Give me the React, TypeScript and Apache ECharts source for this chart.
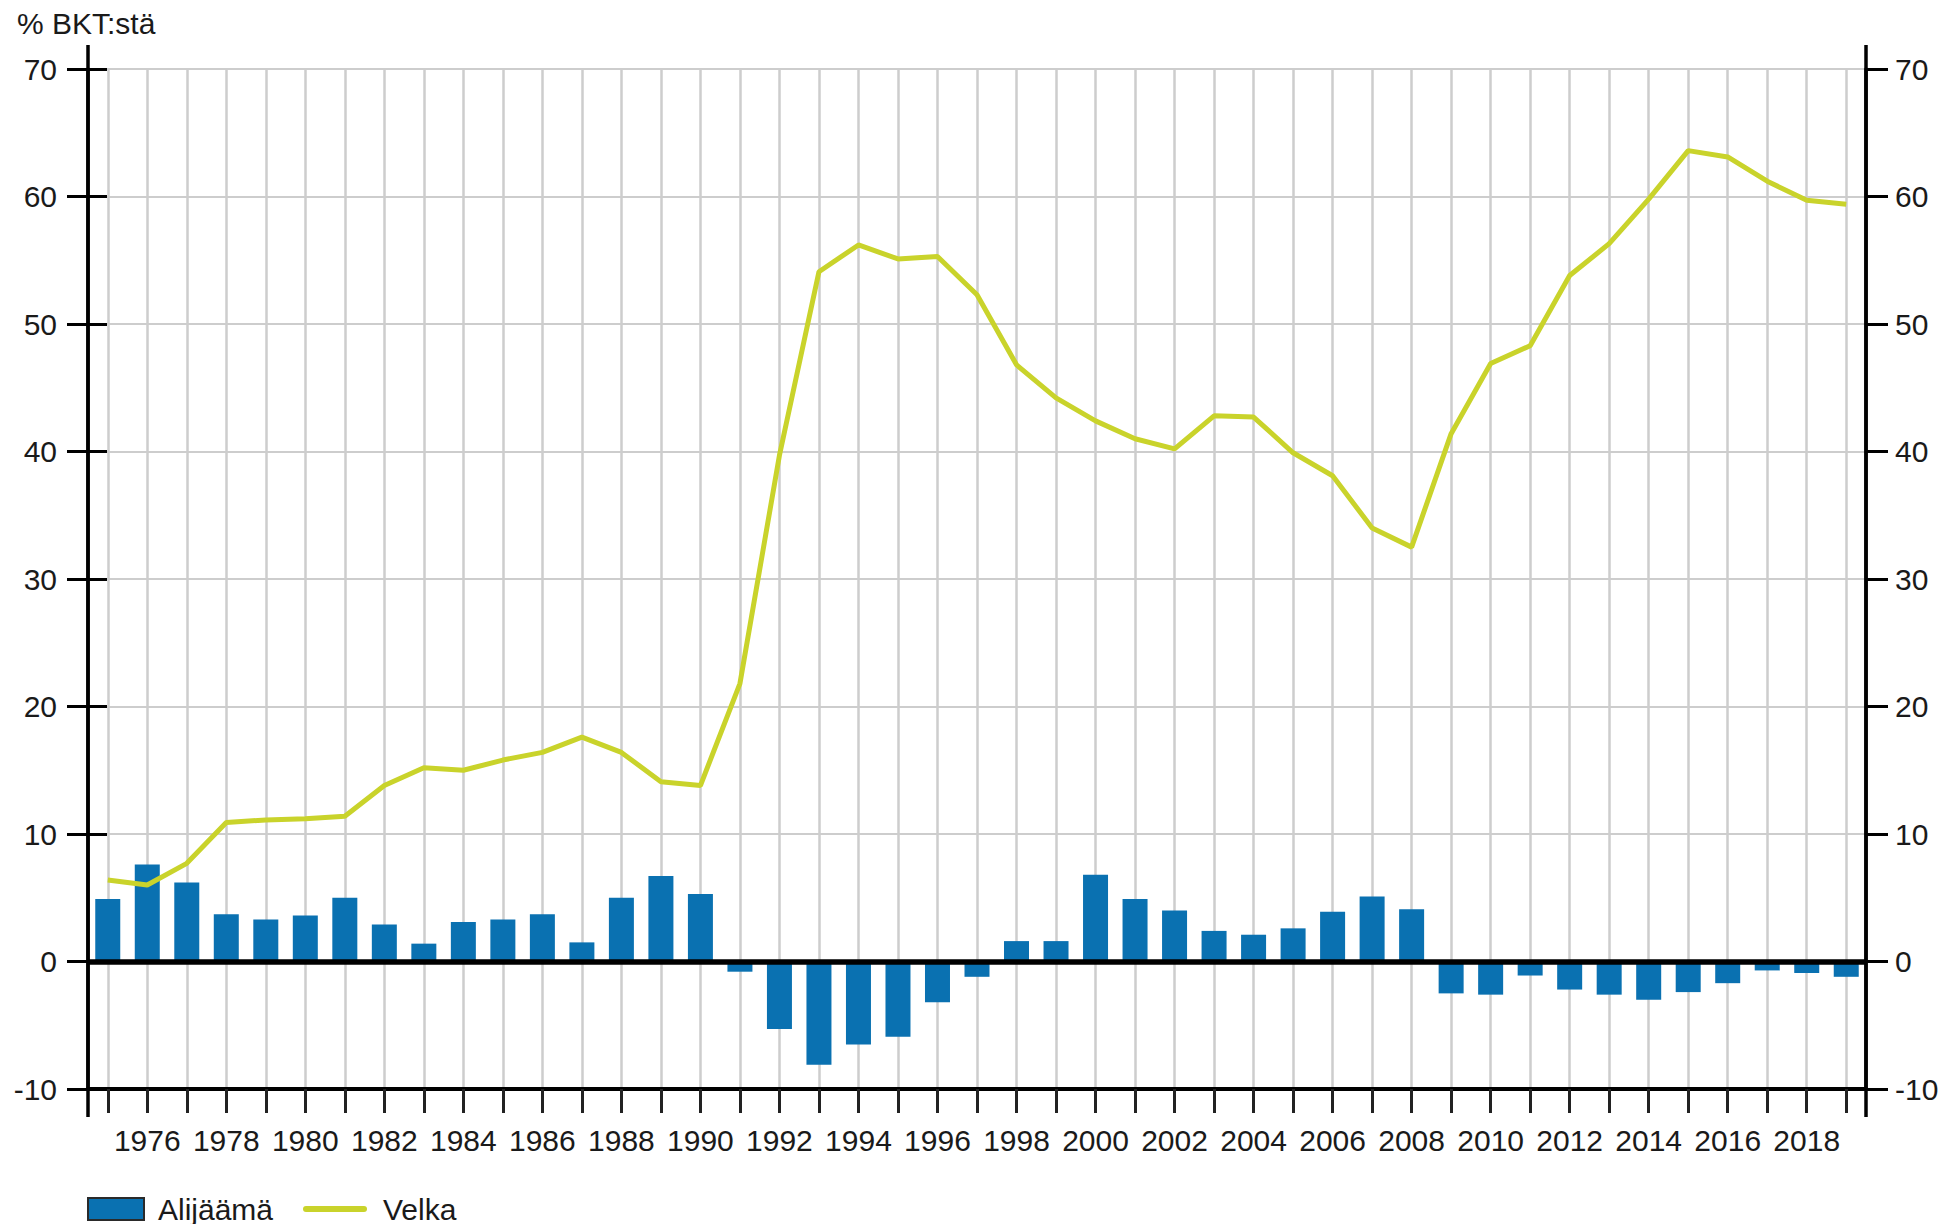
import React, { useEffect, useRef } from "react";
import * as echarts from "echarts";

const years = [
  "1975", "1976", "1977", "1978", "1979", "1980", "1981", "1982", "1983", "1984",
  "1985", "1986", "1987", "1988", "1989", "1990", "1991", "1992", "1993", "1994",
  "1995", "1996", "1997", "1998", "1999", "2000", "2001", "2002", "2003", "2004",
  "2005", "2006", "2007", "2008", "2009", "2010", "2011", "2012", "2013", "2014",
  "2015", "2016", "2017", "2018", "2019",
];

// Alijäämä (balance, % of GDP)
const deficit = [
  4.9, 7.6, 6.2, 3.7, 3.3, 3.6, 5.0, 2.9, 1.4, 3.1,
  3.3, 3.7, 1.5, 5.0, 6.7, 5.3, -0.8, -5.3, -8.1, -6.5,
  -5.9, -3.2, -1.2, 1.6, 1.6, 6.8, 4.9, 4.0, 2.4, 2.1,
  2.6, 3.9, 5.1, 4.1, -2.5, -2.6, -1.1, -2.2, -2.6, -3.0,
  -2.4, -1.7, -0.7, -0.9, -1.2,
];

// Velka (debt, % of GDP)
const debt = [
  6.4, 6.0, 7.7, 10.9, 11.1, 11.2, 11.4, 13.8, 15.2, 15.0,
  15.8, 16.4, 17.6, 16.4, 14.1, 13.8, 21.8, 39.7, 54.1, 56.2,
  55.1, 55.3, 52.3, 46.8, 44.2, 42.4, 41.0, 40.2, 42.8, 42.7,
  39.9, 38.1, 34.0, 32.5, 41.4, 46.9, 48.3, 53.8, 56.3, 59.8,
  63.6, 63.1, 61.2, 59.7, 59.4,
];

const yMin = -10;
const yMax = 70;
const yStep = 10;

const W = 1949;
const H = 1224;
const G_LEFT = 88;
const G_RIGHT = 83;
const G_TOP = 69;
const G_BOTTOM = 135;

const FONT = "'Liberation Sans', Arial, sans-serif";
const TXT = "#1a1a1a";
const BAR = "#0a71b1";
const LINE = "#c9d32b";
const GRID = "#cdcdcd";

export default function App() {
  const ref = useRef<HTMLDivElement>(null);

  useEffect(() => {
    if (!ref.current) return;
    const chart = echarts.init(ref.current, undefined, { renderer: "svg" });

    const axisX1 = G_LEFT;
    const axisX2 = W - G_RIGHT;
    const extTop = G_TOP - 24;
    const extBottom = H - G_BOTTOM + 28;

    const baseY = {
      type: "value",
      min: yMin,
      max: yMax,
      interval: yStep,
    };

    const legendText = { fontFamily: FONT, fontSize: 30, lineHeight: 30, color: TXT };

    chart.setOption({
      animation: false,
      backgroundColor: "#ffffff",
      textStyle: { fontFamily: FONT },
      grid: { left: G_LEFT, right: G_RIGHT, top: G_TOP, bottom: G_BOTTOM, containLabel: false },
      legend: [
        {
          left: 87,
          top: 1194,
          padding: 0,
          itemWidth: 56,
          itemHeight: 22,
          selectedMode: false,
          textStyle: { ...legendText, padding: [0, 0, 0, 9] },
          data: [
            { name: "Alijäämä", icon: "rect", itemStyle: { borderColor: "#2a2a2a", borderWidth: 2 } },
          ],
        },
        {
          left: 303,
          top: 1194,
          padding: 0,
          itemWidth: 64,
          itemHeight: 22,
          selectedMode: false,
          textStyle: { ...legendText, padding: [0, 0, 0, 11] },
          data: [
            {
              name: "Velka",
              icon: "path://M3,0 L61,0 A3,3 0 0 1 61,6 L3,6 A3,3 0 0 1 3,0 Z",
              itemStyle: { color: LINE, borderWidth: 0 },
            },
          ],
        },
      ],
      xAxis: {
        type: "category",
        data: years,
        boundaryGap: true,
        axisLine: { show: true, onZero: false, lineStyle: { color: "#000", width: 4 } },
        axisTick: {
          show: true,
          interval: 0,
          alignWithLabel: true,
          length: 24,
          lineStyle: { color: "#222", width: 3 },
        },
        splitLine: {
          show: true,
          interval: 0,
          alignWithLabel: true,
          lineStyle: { color: GRID, width: 2.5 },
        },
        axisLabel: {
          interval: (index: number) => index % 2 === 1,
          margin: 36,
          fontSize: 30,
          color: TXT,
          fontFamily: FONT,
        },
      },
      yAxis: [
        {
          ...baseY,
          position: "left",
          axisLine: { show: true, lineStyle: { color: "#000", width: 3.5 } },
          axisTick: { show: true, length: 21, lineStyle: { color: "#000", width: 3 } },
          axisLabel: { margin: 31, fontSize: 30, color: TXT, fontFamily: FONT },
          splitLine: { show: true, lineStyle: { color: GRID, width: 2 } },
        },
        {
          ...baseY,
          position: "right",
          axisLine: { show: true, lineStyle: { color: "#000", width: 3.5 } },
          axisTick: { show: true, length: 22, lineStyle: { color: "#000", width: 3 } },
          axisLabel: { margin: 29, fontSize: 30, color: TXT, fontFamily: FONT },
          splitLine: { show: false },
        },
        {
          ...baseY,
          position: "left",
          axisLine: { show: false },
          axisTick: { show: true, inside: true, length: 19, lineStyle: { color: "#000", width: 3 } },
          axisLabel: { show: false },
          splitLine: { show: false },
        },
      ],
      graphic: [
        {
          type: "line",
          silent: true,
          z: 100,
          shape: { x1: axisX1, y1: extTop, x2: axisX1, y2: extBottom },
          style: { stroke: "#000", lineWidth: 3.5 },
        },
        {
          type: "line",
          silent: true,
          z: 100,
          shape: { x1: axisX2, y1: extTop, x2: axisX2, y2: extBottom },
          style: { stroke: "#000", lineWidth: 3.5 },
        },
        {
          type: "text",
          left: 17,
          top: 8,
          style: { text: "% BKT:stä", fontSize: 30, fontFamily: FONT, fill: TXT },
        },
      ],
      series: [
        {
          name: "Alijäämä",
          type: "bar",
          yAxisIndex: 0,
          data: deficit,
          barWidth: 25,
          itemStyle: { color: BAR },
          markLine: {
            silent: true,
            symbol: "none",
            label: { show: false },
            lineStyle: { color: "#000", width: 5.5, type: "solid" },
            data: [{ yAxis: 0 }],
          },
        },
        {
          name: "Velka",
          type: "line",
          yAxisIndex: 1,
          data: debt,
          symbol: "none",
          lineStyle: { color: LINE, width: 5 },
          itemStyle: { color: LINE },
          z: 5,
        },
      ],
    });

    return () => {
      chart.dispose();
    };
  }, []);

  return (
    <div
      ref={ref}
      style={{ position: "fixed", left: 0, top: 0, width: W, height: H, background: "#fff" }}
    />
  );
}
